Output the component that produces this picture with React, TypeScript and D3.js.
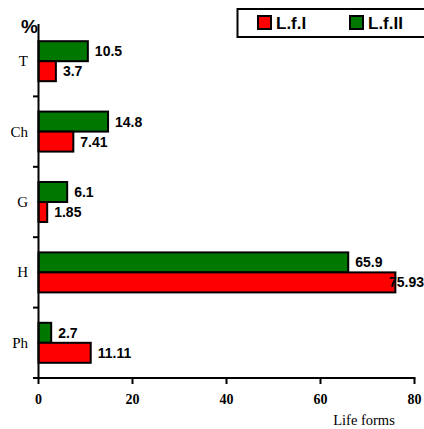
import React from "react";
import * as d3 from "d3";

const categories = ["T", "Ch", "G", "H", "Ph"];
const lf1 = [3.7, 7.41, 1.85, 75.93, 11.11];
const lf2 = [10.5, 14.8, 6.1, 65.9, 2.7];
const lf1Labels = ["3.7", "7.41", "1.85", "75.93", "11.11"];
const lf2Labels = ["10.5", "14.8", "6.1", "65.9", "2.7"];
const xTicks = [0, 20, 40, 60, 80];

const W = 424;
const H = 429;

export default function App() {
  const x = d3.scaleLinear().domain([0, 80]).range([38.5, 414.5]);
  const y = d3.scaleBand().domain(categories).range([26, 378]);
  const barH = 20;
  const fs = 14;
  const textW = (s: string) => s.split("").reduce((a, ch) => a + (ch === "." ? 0.278 : 0.556), 0) * fs;
  return (
    <svg width={W} height={H} style={{ position: "absolute", left: 0, top: 0, background: "#fff" }}>
      {categories.map((c, i) => {
        const cy = (y(c) as number) + y.bandwidth() / 2;
        const g0 = cy - barH;
        const r0 = cy;
        const gx = x(lf2[i]);
        const rx = x(lf1[i]);
        let rLabelX = rx + 7;
        if (rLabelX + textW(lf1Labels[i]) > W) rLabelX = W - textW(lf1Labels[i]);
        let gLabelX = gx + 7;
        if (gLabelX + textW(lf2Labels[i]) > W) gLabelX = W - textW(lf2Labels[i]);
        return (
          <g key={c}>
            <rect x={x(0)} y={g0} width={gx - x(0)} height={barH} fill="#007800" stroke="#000" strokeWidth={2} />
            <rect x={x(0)} y={r0} width={rx - x(0)} height={barH} fill="#ff0000" stroke="#000" strokeWidth={2} />
            <text x={gLabelX} y={g0 + barH / 2 + 5} fontFamily="Liberation Sans, Arial, sans-serif" fontWeight="bold" fontSize={fs} fill="#000">{lf2Labels[i]}</text>
            <text x={rLabelX} y={r0 + barH / 2 + 5} fontFamily="Liberation Sans, Arial, sans-serif" fontWeight="bold" fontSize={fs} fill="#000">{lf1Labels[i]}</text>
            <text x={28} y={cy + 5} textAnchor="end" fontFamily="Liberation Serif, Times New Roman, serif" fontSize={15} fill="#000">{c}</text>
          </g>
        );
      })}
      {/* y axis */}
      <line x1={x(0)} x2={x(0)} y1={24} y2={379} stroke="#000" strokeWidth={2} />
      {categories.map((c, i) => {
        const yy = (y(c) as number) + y.bandwidth();
        return <line key={"yt" + i} x1={33} x2={x(0)} y1={yy} y2={yy} stroke="#000" strokeWidth={2} />;
      })}
      {/* x axis */}
      <line x1={33} x2={x(80) + 1} y1={378} y2={378} stroke="#000" strokeWidth={2} />
      {xTicks.map((t) => (
        <g key={"xt" + t}>
          <line x1={x(t)} x2={x(t)} y1={378} y2={384} stroke="#000" strokeWidth={2} />
          <text x={x(t)} y={404} textAnchor="middle" fontFamily="Liberation Serif, Times New Roman, serif" fontWeight="bold" fontSize={14} fill="#000">{t}</text>
        </g>
      ))}
      <text x={364} y={425} textAnchor="middle" fontFamily="Liberation Serif, Times New Roman, serif" fontSize={14.5} fill="#000">Life forms</text>
      <text x={21} y={33} fontFamily="Liberation Sans, Arial, sans-serif" fontWeight="bold" fontSize={19} fill="#000">%</text>
      {/* legend */}
      <rect x={237.5} y={9} width={200} height={28} fill="#fff" stroke="#000" strokeWidth={2} />
      <rect x={258} y={16} width={13} height={13} fill="#ff0000" stroke="#000" strokeWidth={2} />
      <text x={276} y={29} fontFamily="Liberation Sans, Arial, sans-serif" fontWeight="bold" fontSize={17} fill="#000">L.f.I</text>
      <rect x={350} y={16} width={13} height={13} fill="#007800" stroke="#000" strokeWidth={2} />
      <text x={368} y={29} fontFamily="Liberation Sans, Arial, sans-serif" fontWeight="bold" fontSize={17} fill="#000">L.f.II</text>
    </svg>
  );
}
